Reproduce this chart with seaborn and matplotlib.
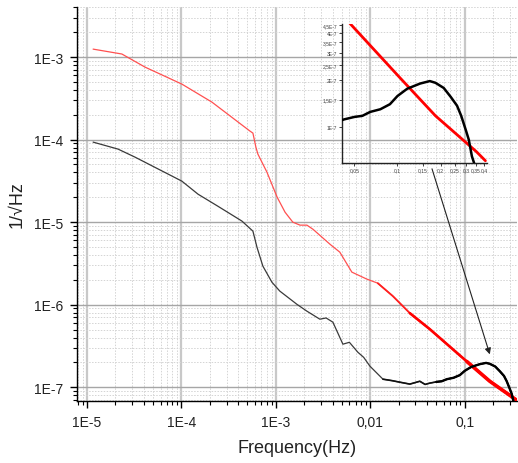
import numpy as np
import pandas as pd
import matplotlib
matplotlib.use("Agg")
import matplotlib.pyplot as plt
import seaborn as sns
from matplotlib.ticker import FixedLocator, NullLocator, LogLocator, FuncFormatter, NullFormatter

# ---- data ----
red_freq = [1.16e-5, 2.34e-5, 4.11e-5, 1.01e-4, 2.10e-4, 5.31e-4, 5.71e-4, 6.14e-4,
            6.45e-4, 8.04e-4, 1.03e-3, 1.25e-3, 1.51e-3, 1.80e-3, 2.13e-3, 2.47e-3,
            3.73e-3, 4.75e-3, 6.37e-3, 9.18e-3, 1.20e-2, 1.73e-2, 2.62e-2, 4.26e-2,
            0.105, 0.184, 0.355, 0.41]
red_psd = [1.25e-3, 1.09e-3, 7.57e-4, 4.71e-4, 2.85e-4, 1.27e-4, 1.20e-4, 8.11e-5,
           6.67e-5, 4.03e-5, 2.01e-5, 1.32e-5, 1.0e-5, 9.2e-6, 9.2e-6, 8.2e-6,
           5.41e-6, 4.33e-6, 2.48e-6, 2.04e-6, 1.82e-6, 1.27e-6, 7.89e-7, 5.05e-7,
           2.05e-7, 1.18e-7, 6.95e-8, 6.08e-8]

black_freq = [1.16e-5, 2.13e-5, 3.22e-5, 1.01e-4, 1.50e-4, 2.43e-4, 4.37e-4, 5.71e-4,
              6.0e-4, 6.30e-4, 7.28e-4, 9.08e-4, 1.10e-3, 1.67e-3, 2.13e-3, 2.92e-3,
              3.4e-3, 4.01e-3, 4.5e-3, 5.12e-3, 6.0e-3, 7.38e-3, 8.5e-3, 9.89e-3,
              1.36e-2, 1.7e-2, 2.05e-2, 2.62e-2, 3.34e-2, 3.8e-2, 4.26e-2, 5.0e-2,
              5.7e-2, 6.46e-2, 7.6e-2, 8.86e-2, 0.100, 0.117, 0.144, 0.168, 0.184,
              0.21, 0.235, 0.26, 0.278, 0.30, 0.314, 0.33, 0.35]
black_psd = [9.33e-5, 7.68e-5, 6.14e-5, 3.14e-5, 2.18e-5, 1.56e-5, 1.03e-5, 7.78e-6,
             6.22e-6, 4.98e-6, 2.93e-6, 1.87e-6, 1.46e-6, 1.01e-6, 8.34e-7, 6.67e-7,
             6.9e-7, 6.14e-7, 4.6e-7, 3.32e-7, 3.5e-7, 2.65e-7, 2.3e-7, 1.80e-7,
             1.25e-7, 1.2e-7, 1.15e-7, 1.09e-7, 1.18e-7, 1.08e-7, 1.12e-7, 1.16e-7,
             1.18e-7, 1.25e-7, 1.30e-7, 1.40e-7, 1.58e-7, 1.76e-7, 1.90e-7, 1.97e-7,
             1.92e-7, 1.78e-7, 1.56e-7, 1.37e-7, 1.18e-7, 9.5e-8, 8.3e-8, 6.5e-8, 5.5e-8]

x_major = [1e-5, 1e-4, 1e-3, 1e-2, 1e-1]
x_major_labels = ["1E-5", "1E-4", "1E-3", "0,01", "0,1"]
y_major = [1e-7, 1e-6, 1e-5, 1e-4, 1e-3]
y_major_labels = ["1E-7", "1E-6", "1E-5", "1E-4", "1E-3"]

inset_x_ticks = [0.05, 0.1, 0.15, 0.2, 0.25, 0.3, 0.35, 0.4]
inset_x_labels = ["0,05", "0,1", "0,15", "0,2", "0,25", "0,3", "0,35", "0,4"]
inset_y_ticks = [1e-7, 1.5e-7, 2e-7, 2.5e-7, 3e-7, 3.5e-7, 4e-7, 4.5e-7]
inset_y_labels = ["1E-7", "1,5E-7", "2E-7", "2,5E-7", "3E-7", "3,5E-7", "4E-7", "4,5E-7"]

red = pd.DataFrame({"f": red_freq, "v": red_psd})
black = pd.DataFrame({"f": black_freq, "v": black_psd})

sns.set_style("white")
plt.rcParams["font.family"] = ["Liberation Sans", "DejaVu Sans"]

fig = plt.figure(figsize=(5.18, 4.64), dpi=100)
ax = fig.add_axes([0.1486, 0.1336, 0.849, 0.849])

ax.set_xscale("log")
ax.set_yscale("log")


def draw(a, df, fmin, color, lw, z):
    sns.lineplot(data=df[df.f >= fmin], x="f", y="v", ax=a, color=color, lw=lw,
                 estimator=None, sort=False, zorder=z)


# lines (thickness grows where the measured noise gets dense)
draw(ax, red, 0, "#ff5050", 0.9, 3)
draw(ax, red, 0.011, "#ff2020", 1.3, 3)
draw(ax, red, 0.025, "#ff0000", 1.9, 3)
draw(ax, red, 0.06, "#ff0000", 2.6, 3)
draw(ax, black, 0, "#3a3a3a", 0.9, 4)
draw(ax, black, 0.012, "#111111", 1.2, 4)
draw(ax, black, 0.05, "#000000", 1.7, 4)

ax.set_xlim(7.83e-6, 0.355)
ax.set_ylim(6.8e-8, 4.04e-3)

ax.xaxis.set_major_locator(FixedLocator(x_major))
ax.xaxis.set_major_formatter(FuncFormatter(
    lambda v, p: x_major_labels[int(np.argmin([abs(np.log10(t) - np.log10(v)) for t in x_major]))]))
ax.yaxis.set_major_locator(FixedLocator(y_major))
ax.yaxis.set_major_formatter(FuncFormatter(
    lambda v, p: y_major_labels[int(np.argmin([abs(np.log10(t) - np.log10(v)) for t in y_major]))]))
ax.xaxis.set_minor_locator(LogLocator(base=10, subs=np.arange(2, 10) * 1.0, numticks=100))
ax.yaxis.set_minor_locator(LogLocator(base=10, subs=np.arange(2, 10) * 1.0, numticks=100))
ax.xaxis.set_minor_formatter(NullFormatter())
ax.yaxis.set_minor_formatter(NullFormatter())

ax.grid(which="minor", color="#d4d4d4", ls=(0, (1.5, 1.5)), lw=0.7, zorder=0)
ax.grid(which="major", axis="x", color="#c8c8c8", lw=1.6, zorder=1)
ax.grid(which="major", axis="y", color="#a6a6a6", lw=1.0, zorder=1)
ax.set_axisbelow(True)

for s in ["top", "right"]:
    ax.spines[s].set_visible(False)
for s in ["left", "bottom"]:
    ax.spines[s].set_color("black")
    ax.spines[s].set_linewidth(1.0)

ax.tick_params(which="major", direction="out", length=5, width=1, color="black",
               labelsize=10, labelcolor="#222222", left=True, bottom=True, pad=5)
ax.tick_params(which="minor", direction="out", length=3, width=0.8, color="black",
               left=True, bottom=True)

ax.set_xlabel("Frequency(Hz)", fontsize=13, color="#222222", labelpad=7)
ax.set_ylabel("1/\u221aHz", fontsize=13, color="#222222", labelpad=6)

# arrow from inset to the bump
ax.annotate("", xy=(0.184, 2.5e-7), xycoords="data",
            xytext=(0.834, 0.634), textcoords="figure fraction",
            arrowprops=dict(arrowstyle="-|>", color="#222222", lw=0.8,
                            mutation_scale=9, shrinkA=0, shrinkB=0))

# inset
axi = fig.add_axes([0.660, 0.647, 0.280, 0.300])
axi.patch.set_alpha(0)
axi.set_xscale("log")
axi.set_yscale("log")
draw(axi, red, 0.03, "#ff0000", 2.0, 3)
draw(axi, black, 0.03, "#000000", 1.8, 4)
axi.set_xlim(0.041, 0.42)
axi.set_ylim(5.9e-8, 4.6e-7)
axi.xaxis.set_major_locator(FixedLocator(inset_x_ticks))
axi.xaxis.set_major_formatter(FuncFormatter(
    lambda v, p: inset_x_labels[int(np.argmin([abs(v - t) for t in inset_x_ticks]))]))
axi.yaxis.set_major_locator(FixedLocator(inset_y_ticks))
axi.yaxis.set_major_formatter(FuncFormatter(
    lambda v, p: inset_y_labels[int(np.argmin([abs(v - t) for t in inset_y_ticks]))]))
axi.xaxis.set_minor_locator(NullLocator())
axi.yaxis.set_minor_locator(NullLocator())
axi.set_xlabel("")
axi.set_ylabel("")
axi.grid(False)
for s in ["top", "right"]:
    axi.spines[s].set_visible(False)
for s in ["left", "bottom"]:
    axi.spines[s].set_color("#222222")
    axi.spines[s].set_linewidth(1.0)
axi.tick_params(which="major", direction="out", length=2, width=0.6, color="#222222",
                labelsize=3.6, labelcolor="#444444", pad=1.5, left=True, bottom=True)

fig.savefig("out.png", dpi=100)
